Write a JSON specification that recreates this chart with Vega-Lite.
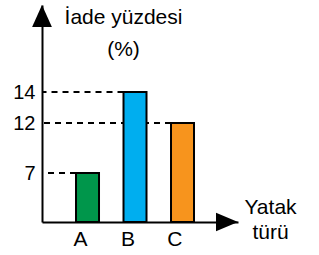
{
  "$schema": "https://vega.github.io/schema/vega-lite/v6.json",
  "width": 196,
  "height": 217,
  "autosize": {"type": "none"},
  "padding": {"left": 42, "top": 5, "right": 81, "bottom": 33},
  "background": "white",
  "config": {
    "view": {"stroke": null},
    "font": "Liberation Sans",
    "axis": {"font": "Liberation Sans"}
  },
  "data": {
    "values": [
      {"yatak": "A", "iade": 7},
      {"yatak": "B", "iade": 14},
      {"yatak": "C", "iade": 12}
    ]
  },
  "layer": [
    {
      "mark": {"type": "rule", "strokeDash": [6, 5], "strokeWidth": 2, "color": "black"},
      "encoding": {
        "x": {"field": "yatak", "type": "nominal", "bandPosition": 0},
        "x2": {"value": 0},
        "y": {"field": "iade", "type": "quantitative"}
      }
    },
    {
      "mark": {"type": "bar", "stroke": "black", "strokeWidth": 2},
      "encoding": {
        "x": {
          "field": "yatak",
          "type": "nominal",
          "scale": {"type": "band", "paddingInner": 0.5158, "paddingOuter": 0.8211, "align": 0.436},
          "axis": {
            "title": ["Yatak", "türü"],
            "titleFontSize": 21,
            "titleFontWeight": "normal",
            "titleColor": "black",
            "titleLineHeight": 25,
            "titleAngle": 0,
            "titleAlign": "center",
            "titleBaseline": "alphabetic",
            "titleX": 228,
            "titleY": -9,
            "labelAngle": 0,
            "labelFontSize": 21,
            "labelColor": "black",
            "labelPadding": 17,
            "ticks": false,
            "domainColor": "black",
            "domainWidth": 2,
            "grid": false
          }
        },
        "y": {
          "field": "iade",
          "type": "quantitative",
          "scale": {"type": "linear", "domain": [0, 7, 12, 14, 19], "range": [217, 168, 118, 87, 0], "nice": false, "zero": false},
          "axis": {
            "values": [7, 12, 14],
            "title": ["İade yüzdesi", "(%)"],
            "titleFontSize": 21,
            "titleFontWeight": "normal",
            "titleColor": "black",
            "titleLineHeight": 32,
            "titleAngle": 0,
            "titleAlign": "center",
            "titleBaseline": "alphabetic",
            "titleX": 81,
            "titleY": 18,
            "labelFontSize": 20,
            "labelColor": "black",
            "labelPadding": 7,
            "ticks": false,
            "domainColor": "black",
            "domainWidth": 2,
            "grid": false
          }
        },
        "color": {
          "field": "yatak",
          "type": "nominal",
          "scale": {"domain": ["A", "B", "C"], "range": ["#00964B", "#00AEEF", "#F7941D"]},
          "legend": null
        }
      }
    },
    {
      "data": {"values": [{"arrow": "y"}]},
      "mark": {"type": "point", "shape": "M0,0L0.9,2L-0.9,2Z", "filled": true, "color": "black", "size": 484, "opacity": 1},
      "encoding": {
        "x": {"value": 0},
        "y": {"datum": 19}
      }
    },
    {
      "data": {"values": [{"arrow": "x"}]},
      "mark": {"type": "point", "shape": "M0,0L-2,-0.85L-2,0.85Z", "filled": true, "color": "black", "size": 484, "opacity": 1},
      "encoding": {
        "x": {"value": {"expr": "width"}},
        "y": {"datum": 0}
      }
    }
  ]
}
